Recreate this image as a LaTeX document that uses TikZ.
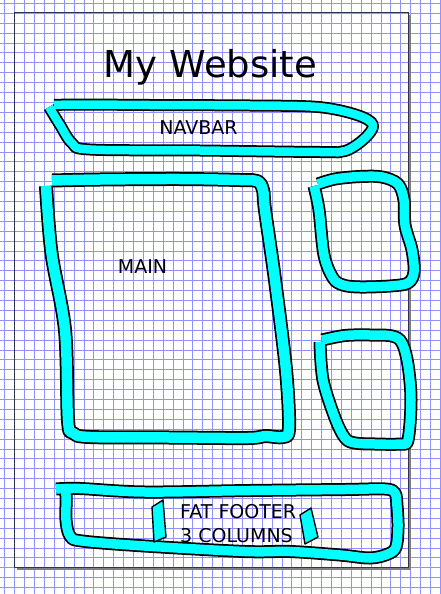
\documentclass[tikz,border=0pt]{standalone}
\usepackage{fontspec}
\setmainfont{DejaVu Sans}
\definecolor{gridc}{RGB}{145,145,255}
\definecolor{pagec}{RGB}{50,50,85}
\definecolor{shadowc}{RGB}{128,128,128}
\definecolor{brush}{RGB}{0,255,255}
\tikzset{
  gridline/.style={draw=gridc, line width=0.8pt},
  brushout/.style={draw=black, line width=#1, line cap=butt, line join=round},
  brushin/.style={draw=brush, line width=#1, line cap=butt, line join=round},
  lbl/.style={font=\fontsize{19}{23}\selectfont, text=black, inner sep=0pt},
  colbox/.style={draw=black, fill=brush, line width=1.4pt, line join=round},
}
\newcommand\brushpath[3]{%
  \draw[brushout=#1] plot[smooth,tension=0.55] coordinates {#3};
  \draw[brushin=#2] plot[smooth,tension=0.55] coordinates {#3};
}
\begin{document}
\begin{tikzpicture}[x=1pt,y=-1pt]
\useasboundingbox (0,0) rectangle (440,594);
\fill[white] (0,0) rectangle (440,594);
% grid
\foreach \k in {0,...,44} \draw[gridline] ({4.7+9.9*\k},0) -- ++(0,594);
\foreach \k in {0,...,59} \draw[gridline] (0,{3.4+9.9*\k}) -- ++(440,0);
% page shadow and border
\fill[shadowc] (408,15) rectangle (411,570);
\fill[shadowc] (17,567) rectangle (411,570);
\draw[pagec, line width=1pt] (14.5,12.5) rectangle (408,567);
% navbar
\brushpath{12pt}{8.5pt}{(54,105) (80,104.5) (150,105) (250,105.5) (318,107) (357,115) (373,125) (364,139) (345,151) (320,152) (200,150.5) (90,149.5) (72,143) (60,125) (49,107)}
% main
\brushpath{14pt}{10.5pt}{(52,180.5) (100,179.5) (180,179) (240,180) (257,181) (263,190) (265,210) (275,280) (286,370) (289,428) (283,437) (265,436) (248,438) (170,437.5) (90,437) (73,433) (68,420) (65,330) (51.5,253) (46,186)}
% side box 1
\brushpath{13pt}{9.5pt}{(318,184) (335,179) (360,176.5) (382,177) (398,184) (404,200) (405,225) (412,250) (414,272) (408,283) (390,286) (360,287) (343,285) (333,278) (324,255) (319,210) (314,186)}
% side box 2
\brushpath{13pt}{9.5pt}{(322,340) (345,335.5) (370,335) (392,336) (402,343) (408,365) (411,400) (408,440) (400,444) (375,444) (355,443) (345,438) (335,418) (323,380) (320,342)}
% footer
\brushpath{13pt}{9.5pt}{(56,489) (80,488.5) (145,492) (250,490.5) (345,489.5) (385,489) (395,493) (397,506) (398,527) (396,547) (388,554) (370,558) (340,555) (290,551.5) (245,551.5) (145,546) (82,541) (70,536) (66,520) (66,495) (62,487)}
% footer column marks
\draw[colbox] (152,507) -- (163,500) -- (166,537) -- (154,542) -- cycle;
\draw[colbox] (300,515) -- (311,508) -- (318,537) -- (305,544) -- cycle;
% texts
\node[anchor=base, font=\fontsize{37}{44}\selectfont, inner sep=0pt] (title) at (210.5,77.5) {My Website};
\node[lbl, anchor=base] (nav) at (198.5,134) {NAVBAR};
\node[lbl, anchor=base] (main) at (142.5,273.3) {MAIN};
\node[lbl, anchor=base west] (foot1) at (180,518.3) {FAT FOOTER};
\node[lbl, anchor=base west] (foot2) at (180,542.3) {3 COLUMNS};
\end{tikzpicture}
\end{document}
